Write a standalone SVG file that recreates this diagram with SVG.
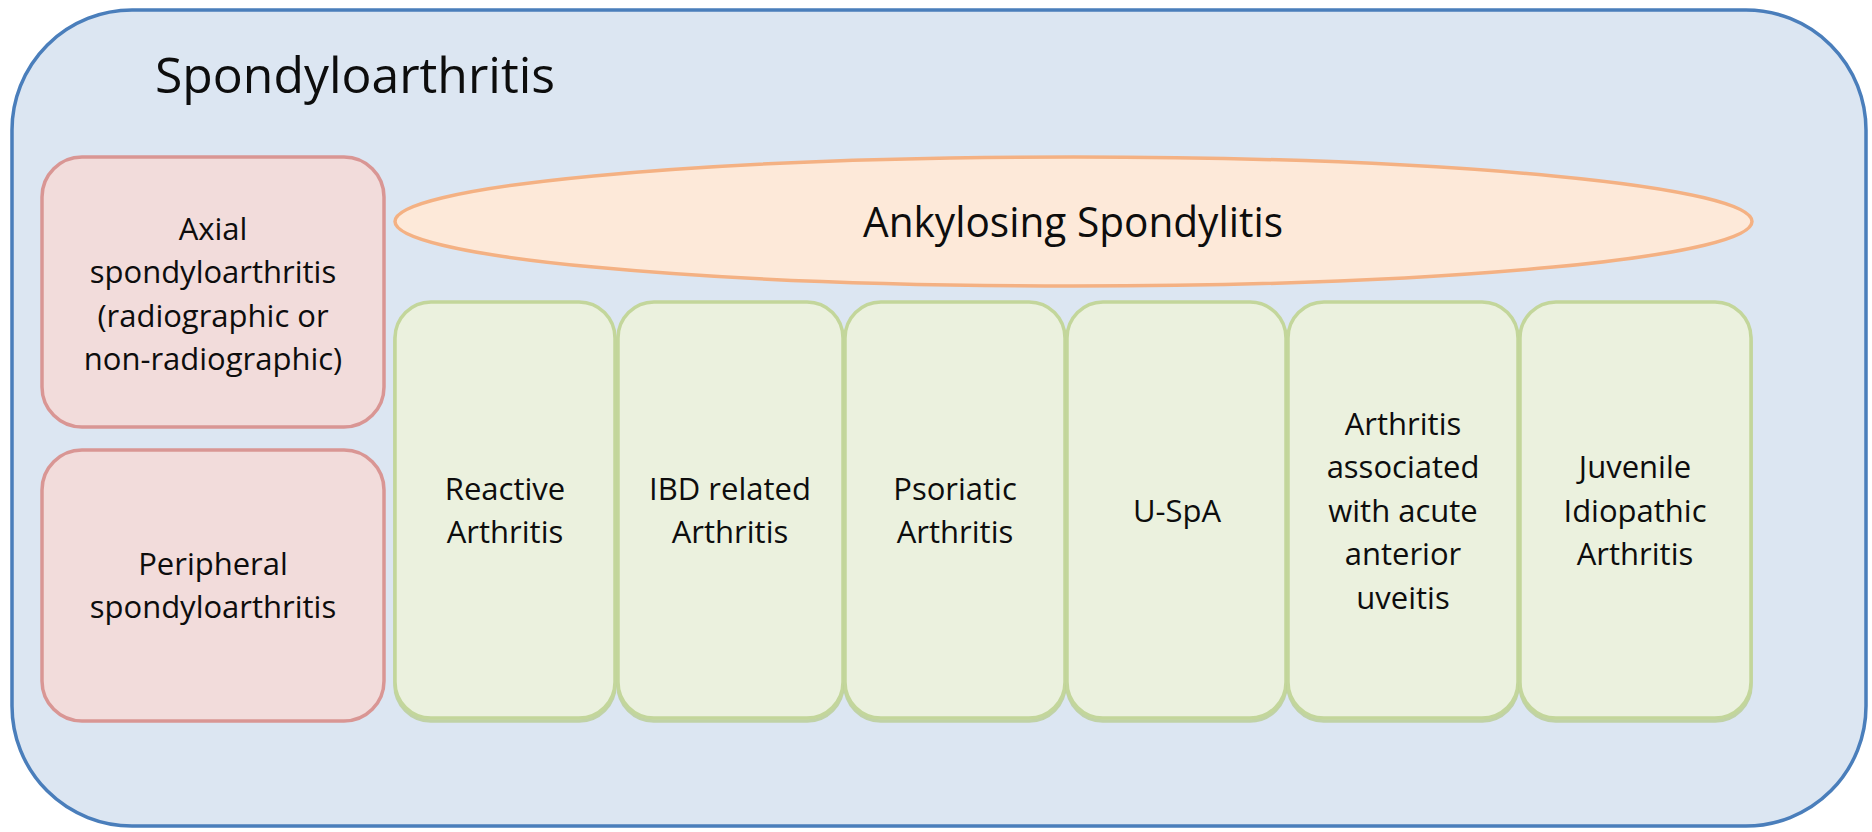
<svg xmlns="http://www.w3.org/2000/svg" width="1872" height="832" viewBox="0 0 1872 832">
  <style>
    .t { font-family: "Open Sans", "Liberation Sans", sans-serif; fill: #0d0d0d; text-anchor: middle; }
    .box { font-size: 31px; }
    .pink { fill: #f2dcdb; stroke: #d99694; stroke-width: 3.5; }
    .green { fill: #ebf1de; stroke: #c3d69b; stroke-width: 3.5; }
    .gshadow { fill: none; stroke: #b9cd92; stroke-width: 3.5; opacity: 0.8; }
  </style>
  <rect x="0" y="0" width="1872" height="832" fill="#ffffff"/>
  <g id="spondyloarthritis">
    <rect x="12" y="10" width="1854" height="816" rx="120" ry="120" fill="#dce6f2" stroke="#4a7ebb" stroke-width="3.5"/>
    <text class="t" x="155" y="93" font-size="50" style="text-anchor:start" textLength="400" lengthAdjust="spacingAndGlyphs">Spondyloarthritis</text>
  </g>
  <g id="axial">
    <rect class="pink" x="42" y="157" width="342" height="270" rx="40" ry="40"/>
    <text class="t box" x="213" y="240">Axial</text>
    <text class="t box" x="213" y="283">spondyloarthritis</text>
    <text class="t box" x="213" y="327">(radiographic or</text>
    <text class="t box" x="213" y="370">non-radiographic)</text>
  </g>
  <g id="peripheral">
    <rect class="pink" x="42" y="450" width="342" height="271" rx="40" ry="40"/>
    <text class="t box" x="213" y="575">Peripheral</text>
    <text class="t box" x="213" y="618">spondyloarthritis</text>
  </g>
  <g id="ankylosing">
    <ellipse cx="1073.5" cy="221.5" rx="678.5" ry="64.5" fill="#fde9d9" stroke="#f4b183" stroke-width="3.5"/>
    <text class="t" x="1073" y="237" font-size="42" textLength="420" lengthAdjust="spacingAndGlyphs">Ankylosing Spondylitis</text>
  </g>
  <g id="reactive">
    <rect class="gshadow" x="395" y="305" width="220" height="416" rx="36" ry="36"/>
    <rect class="green" x="395" y="302" width="220" height="416" rx="36" ry="36"/>
    <text class="t box" x="505" y="500">Reactive</text>
    <text class="t box" x="505" y="543">Arthritis</text>
  </g>
  <g id="ibd">
    <rect class="gshadow" x="618" y="305" width="225" height="416" rx="36" ry="36"/>
    <rect class="green" x="618" y="302" width="225" height="416" rx="36" ry="36"/>
    <text class="t box" x="730" y="500">IBD related</text>
    <text class="t box" x="730" y="543">Arthritis</text>
  </g>
  <g id="psoriatic">
    <rect class="gshadow" x="845" y="305" width="220" height="416" rx="36" ry="36"/>
    <rect class="green" x="845" y="302" width="220" height="416" rx="36" ry="36"/>
    <text class="t box" x="955" y="500">Psoriatic</text>
    <text class="t box" x="955" y="543">Arthritis</text>
  </g>
  <g id="uspa">
    <rect class="gshadow" x="1067" y="305" width="219" height="416" rx="36" ry="36"/>
    <rect class="green" x="1067" y="302" width="219" height="416" rx="36" ry="36"/>
    <text class="t box" x="1177" y="522">U-SpA</text>
  </g>
  <g id="uveitis">
    <rect class="gshadow" x="1288" y="305" width="230" height="416" rx="36" ry="36"/>
    <rect class="green" x="1288" y="302" width="230" height="416" rx="36" ry="36"/>
    <text class="t box" x="1403" y="435">Arthritis</text>
    <text class="t box" x="1403" y="478">associated</text>
    <text class="t box" x="1403" y="522">with acute</text>
    <text class="t box" x="1403" y="565">anterior</text>
    <text class="t box" x="1403" y="609">uveitis</text>
  </g>
  <g id="jia">
    <rect class="gshadow" x="1520" y="305" width="231" height="416" rx="36" ry="36"/>
    <rect class="green" x="1520" y="302" width="231" height="416" rx="36" ry="36"/>
    <text class="t box" x="1635" y="478">Juvenile</text>
    <text class="t box" x="1635" y="522">Idiopathic</text>
    <text class="t box" x="1635" y="565">Arthritis</text>
  </g>
  <g id="connectors"/>
</svg>
